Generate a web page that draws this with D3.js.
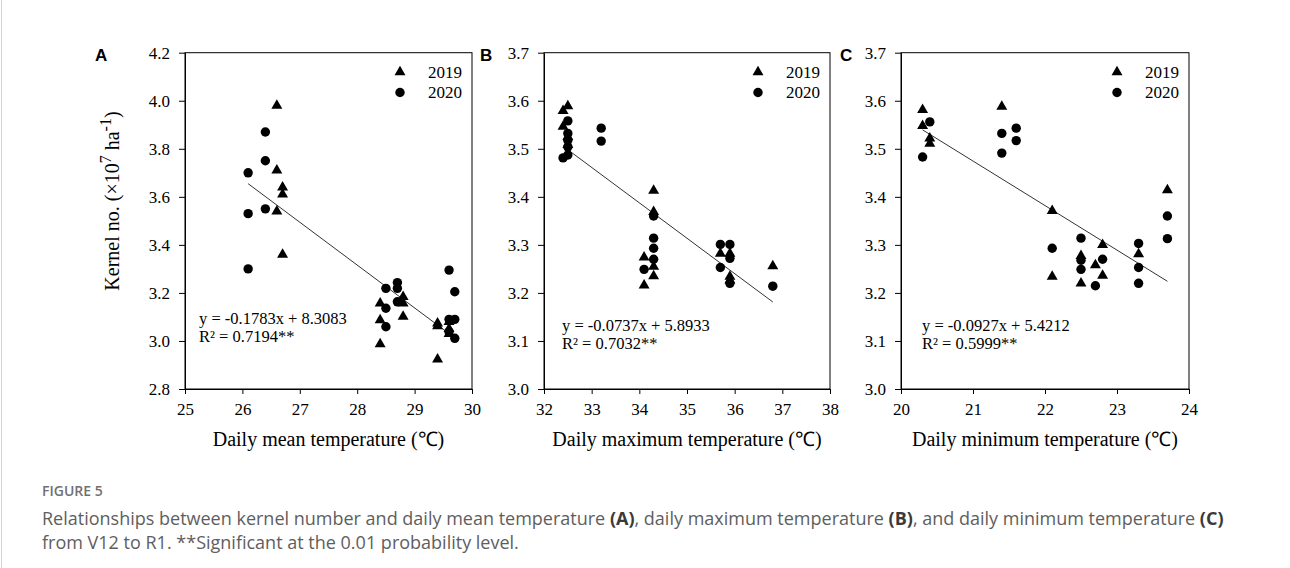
<!DOCTYPE html>
<html>
<head>
<meta charset="utf-8">
<script src="https://cdn.jsdelivr.net/npm/d3@7"></script>
<style>
  html, body { margin: 0; padding: 0; background: #fff; }
  svg { display: block; }
</style>
</head>
<body>
<script>
// Kernel number vs. daily temperature (V12 to R1), 2019 and 2020 seasons

// Panel A: daily mean temperature
const meanTemp2019 = [26.6, 26.6, 26.6, 26.7, 26.7, 26.7, 28.4, 28.4, 28.4, 28.8, 28.8, 28.8, 29.4, 29.4, 29.4, 29.6, 29.6, 29.6];
const meanKernel2019 = [3.98, 3.71, 3.54, 3.64, 3.61, 3.36, 3.157, 3.087, 2.987, 3.184, 3.157, 3.101, 3.073, 3.062, 2.924, 3.08, 3.05, 3.03];
const meanTemp2020 = [26.1, 26.1, 26.1, 26.4, 26.4, 26.4, 28.5, 28.5, 28.5, 28.7, 28.7, 28.7, 29.6, 29.6, 29.6, 29.7, 29.7, 29.7];
const meanKernel2020 = [3.70, 3.53, 3.30, 3.87, 3.75, 3.55, 3.219, 3.136, 3.059, 3.243, 3.219, 3.163, 3.295, 3.09, 3.038, 3.205, 3.09, 3.011];

// Panel B: daily maximum temperature
const maxTemp2019 = [32.4, 32.4, 32.5, 32.5, 32.5, 34.1, 34.1, 34.3, 34.3, 34.3, 34.3, 35.7, 35.9, 35.9, 35.9, 36.8];
const maxKernel2019 = [3.579, 3.546, 3.589, 3.525, 3.508, 3.274, 3.216, 3.413, 3.369, 3.255, 3.235, 3.282, 3.282, 3.234, 3.226, 3.256];
const maxTemp2020 = [32.4, 32.5, 32.5, 32.5, 32.5, 32.5, 33.2, 33.2, 34.1, 34.3, 34.3, 34.3, 34.3, 35.7, 35.7, 35.9, 35.9, 35.9, 36.8];
const maxKernel2020 = [3.481, 3.487, 3.558, 3.532, 3.518, 3.504, 3.543, 3.516, 3.249, 3.36, 3.314, 3.293, 3.27, 3.301, 3.253, 3.301, 3.272, 3.22, 3.214];

// Panel C: daily minimum temperature
const minTemp2019 = [20.3, 20.3, 20.4, 20.4, 21.4, 22.1, 22.1, 22.5, 22.5, 22.7, 22.8, 22.8, 23.3, 23.7];
const minKernel2019 = [3.581, 3.548, 3.522, 3.511, 3.588, 3.371, 3.234, 3.277, 3.22, 3.258, 3.30, 3.236, 3.281, 3.414];
const minTemp2020 = [20.3, 20.4, 21.4, 21.4, 21.6, 21.6, 22.1, 22.5, 22.5, 22.5, 22.7, 22.8, 23.3, 23.3, 23.3, 23.7, 23.7];
const minKernel2020 = [3.483, 3.556, 3.532, 3.491, 3.543, 3.517, 3.293, 3.314, 3.268, 3.249, 3.215, 3.27, 3.303, 3.253, 3.22, 3.36, 3.313];

// Linear fits: slope, intercept, R², fitted temperature range
const fitSlopes = [-0.1783, -0.0737, -0.0927];
const fitIntercepts = [8.3083, 5.8933, 5.4212];
const fitR2 = ["0.7194", "0.7032", "0.5999"];
const fitRanges = [[26.1, 29.55], [32.5, 36.8], [20.3, 23.7]];

// Axis ticks
const xTicksA = [25, 26, 27, 28, 29, 30];
const xTicksB = [32, 33, 34, 35, 36, 37, 38];
const xTicksC = [20, 21, 22, 23, 24];
const yTicksA = [2.8, 3.0, 3.2, 3.4, 3.6, 3.8, 4.0, 4.2];
const yTicksBC = [3.0, 3.1, 3.2, 3.3, 3.4, 3.5, 3.6, 3.7];

const panelLetters = ["A", "B", "C"];
const xTitles = ["Daily mean temperature  (\u2103)", "Daily maximum temperature (\u2103)", "Daily minimum temperature (\u2103)"];
const seriesYears = ["2019", "2020"];

const W = 1290, H = 568;
const serif = "'Liberation Serif', 'Times New Roman', serif";
const sans = "'Liberation Sans', Arial, sans-serif";

const svg = d3.select("body").append("svg")
  .attr("width", W).attr("height", H)
  .attr("viewBox", `0 0 ${W} ${H}`);

svg.append("rect").attr("width", W).attr("height", H).attr("fill", "#fff");
svg.append("line").attr("x1", 1.5).attr("x2", 1.5).attr("y1", 0).attr("y2", H)
  .attr("stroke", "#d4d4d4").attr("stroke-width", 1);

// plot frames
const plotTop = 52.7, plotBottom = 389;
const frames = [
  { left: 185, right: 472, letterX: 95 },
  { left: 544, right: 830, letterX: 480 },
  { left: 901, right: 1189, letterX: 840 }
];

const panels = [
  { xDomain: [25, 30], yDomain: [2.8, 4.2], xTicks: xTicksA, yTicks: yTicksA,
    s2019: [meanTemp2019, meanKernel2019], s2020: [meanTemp2020, meanKernel2020],
    eq: { dx: 14, y1: 324, y2: 342 } },
  { xDomain: [32, 38], yDomain: [3.0, 3.7], xTicks: xTicksB, yTicks: yTicksBC,
    s2019: [maxTemp2019, maxKernel2019], s2020: [maxTemp2020, maxKernel2020],
    eq: { dx: 18, y1: 331, y2: 349 } },
  { xDomain: [20, 24], yDomain: [3.0, 3.7], xTicks: xTicksC, yTicks: yTicksBC,
    s2019: [minTemp2019, minKernel2019], s2020: [minTemp2020, minKernel2020],
    eq: { dx: 21, y1: 331, y2: 349 } }
];

const triangle = d3.symbol().type(d3.symbolTriangle).size(52);

panels.forEach((p, i) => {
  const f = frames[i];
  const x = d3.scaleLinear().domain(p.xDomain).range([f.left, f.right]);
  const y = d3.scaleLinear().domain(p.yDomain).range([plotBottom, plotTop]);
  const g = svg.append("g");

  // box
  g.append("rect")
    .attr("x", f.left).attr("y", plotTop)
    .attr("width", f.right - f.left).attr("height", plotBottom - plotTop)
    .attr("fill", "none").attr("stroke", "#000").attr("stroke-width", 1);

  // axes
  const xa = g.append("g").attr("transform", `translate(0,${plotBottom})`)
    .call(d3.axisBottom(x).tickValues(p.xTicks).tickFormat(d3.format("d"))
      .tickSize(5).tickSizeOuter(0).tickPadding(9));
  const ya = g.append("g").attr("transform", `translate(${f.left},0)`)
    .call(d3.axisLeft(y).tickValues(p.yTicks).tickFormat(d3.format(".1f"))
      .tickSize(6).tickSizeOuter(0).tickPadding(9));
  [xa, ya].forEach(a => {
    a.select(".domain").attr("stroke", "#000");
    a.selectAll(".tick line").attr("stroke", "#000");
    a.selectAll(".tick text").attr("font-family", serif).attr("font-size", 17).attr("fill", "#000");
  });

  // axis title
  g.append("text")
    .attr("x", (f.left + f.right) / 2).attr("y", 446)
    .attr("text-anchor", "middle")
    .attr("font-family", serif).attr("font-size", 20)
    .text(xTitles[i]);

  // panel letter
  g.append("text")
    .attr("x", f.letterX).attr("y", 61)
    .attr("font-family", sans).attr("font-weight", "bold").attr("font-size", 17)
    .text(panelLetters[i]);

  // regression line
  const [x0, x1] = fitRanges[i];
  const fit = t => fitSlopes[i] * t + fitIntercepts[i];
  g.append("line")
    .attr("x1", x(x0)).attr("y1", y(fit(x0)))
    .attr("x2", x(x1)).attr("y2", y(fit(x1)))
    .attr("stroke", "#333").attr("stroke-width", 1);

  // 2020 circles
  const pts2020 = p.s2020[0].map((t, k) => [t, p.s2020[1][k]]);
  g.selectAll("circle.s2020").data(pts2020).join("circle")
    .attr("class", "s2020")
    .attr("cx", d => x(d[0])).attr("cy", d => y(d[1]))
    .attr("r", 4.7).attr("fill", "#000");

  // 2019 triangles
  const pts2019 = p.s2019[0].map((t, k) => [t, p.s2019[1][k]]);
  g.selectAll("path.s2019").data(pts2019).join("path")
    .attr("class", "s2019")
    .attr("d", triangle)
    .attr("transform", d => `translate(${x(d[0])},${y(d[1])})`)
    .attr("fill", "#000");

  // legend
  const lx = f.right - 72;
  g.append("path").attr("d", triangle).attr("transform", `translate(${lx},${72})`).attr("fill", "#000");
  g.append("circle").attr("cx", lx).attr("cy", 92.5).attr("r", 4.7).attr("fill", "#000");
  g.append("text").attr("x", lx + 28).attr("y", 77.5)
    .attr("font-family", serif).attr("font-size", 17).text(seriesYears[0]);
  g.append("text").attr("x", lx + 28).attr("y", 98)
    .attr("font-family", serif).attr("font-size", 17).text(seriesYears[1]);

  // equation
  const sign = fitIntercepts[i] >= 0 ? "+" : "-";
  g.append("text").attr("x", f.left + p.eq.dx).attr("y", p.eq.y1)
    .attr("font-family", serif).attr("font-size", 16.5)
    .text(`y = ${fitSlopes[i].toFixed(4)}x ${sign} ${Math.abs(fitIntercepts[i]).toFixed(4)}`);
  g.append("text").attr("x", f.left + p.eq.dx).attr("y", p.eq.y2)
    .attr("font-family", serif).attr("font-size", 16.5)
    .text(`R\u00B2 = ${fitR2[i]}**`);
});

// shared y-axis title
const yTitle = svg.append("text")
  .attr("transform", "translate(119,201) rotate(-90)")
  .attr("text-anchor", "middle")
  .attr("font-family", serif).attr("font-size", 20);
yTitle.append("tspan").text("Kernel no. (\u00D710");
yTitle.append("tspan").attr("font-size", 16).attr("dy", -8).text("7");
yTitle.append("tspan").attr("dy", 8).text(" ha");
yTitle.append("tspan").attr("font-size", 16).attr("dy", -8).text("-1");
yTitle.append("tspan").attr("dy", 8).text(")");

// caption
const capFont = "'Open Sans', 'Noto Sans', sans-serif";
svg.append("text").attr("x", 42).attr("y", 496)
  .attr("font-family", capFont).attr("font-size", 14).attr("font-weight", 600)
  .attr("fill", "#707070")
  .text("FIGURE 5");

const capLines = [
  [["Relationships between kernel number and daily mean temperature ", false], ["(A)", true],
   [", daily maximum temperature ", false], ["(B)", true],
   [", and daily minimum temperature ", false], ["(C)", true]],
  [["from V12 to R1. **Significant at the 0.01 probability level.", false]]
];
capLines.forEach((line, li) => {
  const t = svg.append("text").attr("x", 42).attr("y", 525 + li * 24)
    .attr("font-family", capFont).attr("font-size", 18).attr("fill", "#5e5e5e");
  line.forEach(([s, b]) => {
    t.append("tspan").attr("font-weight", b ? "bold" : "normal")
      .attr("fill", b ? "#3a3a3a" : "#5e5e5e").text(s);
  });
});
</script>
</body>
</html>
